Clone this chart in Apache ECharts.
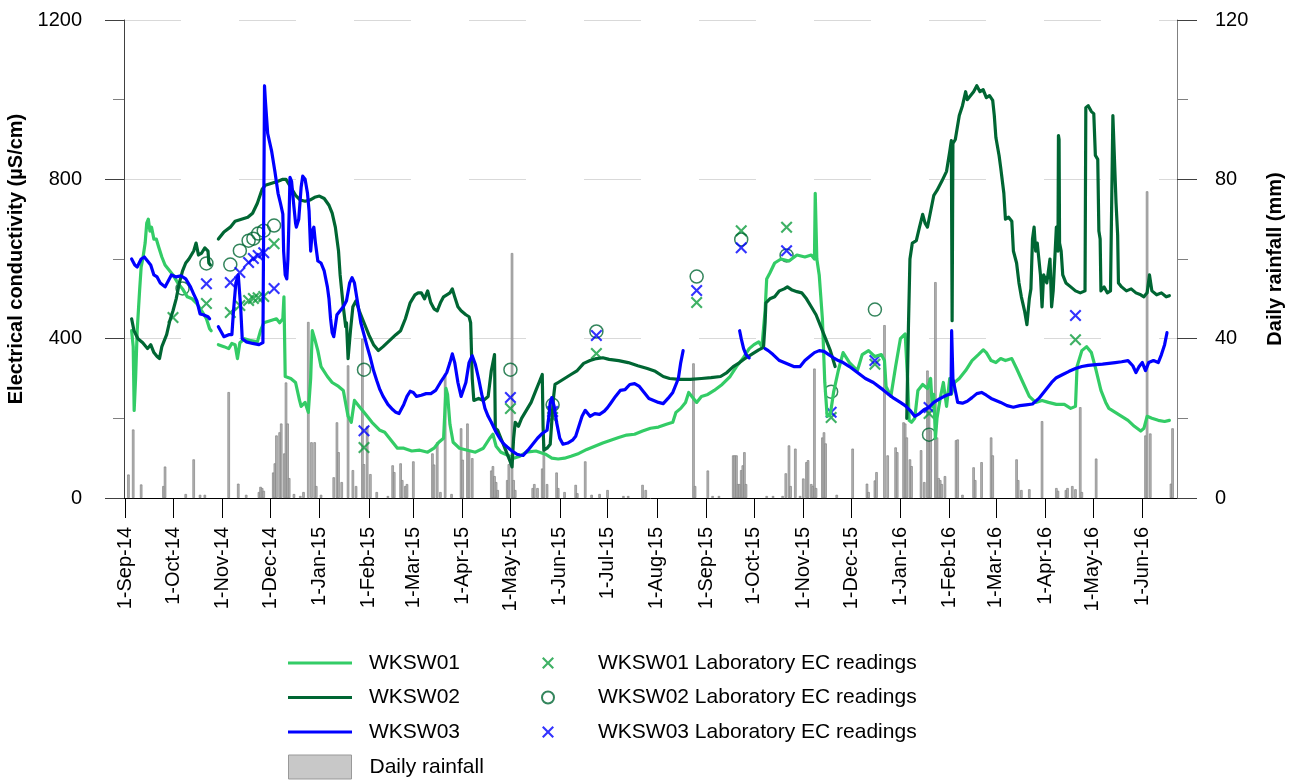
<!DOCTYPE html>
<html>
<head>
<meta charset="utf-8">
<script src="https://cdn.jsdelivr.net/npm/echarts@6/dist/echarts.min.js"></script>
<style>
  html, body { margin: 0; padding: 0; background: #fff; }
  #chart { width: 1298px; height: 780px; }
</style>
</head>
<body>
<div id="chart"></div>
<script>
// Time positions are given as days since 1 Sep 2014; [day, null] marks a logger gap.
const START = new Date(2014, 8, 1).getTime();
const DAY = 864e5;
const END_DAY = 660;

const MONTHS = ['Jan','Feb','Mar','Apr','May','Jun','Jul','Aug','Sep','Oct','Nov','Dec'];

// Continuous EC logger records (µS/cm)
const wksw01 = [
[4,420],[5,380],[5.6,220],[6.5,300],[7.5,420],[9,520],[10,580],[11,600],[12.5,640],[13.5,690],[14.5,700],[15.5,670],[16.5,680],[18,650],[19.5,650],[21,630],[23,605],[25,585],[27,575],[30,560],[33,540],[36,525],[39,505],[42,500],[45,488],[48,470],[51,450],[53,425],[54,420],
[56,null],
[58.5,385],[62,380],[65,375],[67,388],[69,385],[70.5,350],[72,390],[75,400],[79,395],[83,392],[85,420],[87,440],[91,445],[95,450],[97,440],[99,450],[99.7,505],[100.5,305],[104,300],[107,290],[109.5,245],[110.5,230],[113,240],[115,215],[116.5,300],[117.5,420],[119,400],[121,370],[123,330],[127,305],[130,290],[134,280],[137,270],[140,205],[142,190],[144,245],[147,230],[151,210],[155,190],[160,170],[163,165],[167,145],[171,125],[175,125],[180,118],[185,120],[190,115],[194,125],[197,140],[200,150],[201.5,275],[202.5,260],[204,185],[206,140],[210,125],[215,120],[220,115],[225,125],[229,150],[231,160],[233,130],[236,115],[240,108],[244,100],[248,105],[252,115],[258,118],[264,110],[268,100],[272,98],[276,100],[280,105],[285,112],[290,122],[295,130],[300,138],[305,145],[310,152],[315,158],[320,160],[325,168],[330,175],[335,178],[340,185],[344,190],[346,215],[349,225],[352,240],[354,265],[357,250],[359,240],[362,255],[366,260],[370,270],[375,285],[380,305],[384,330],[388,350],[392,375],[395,385],[398,392],[400,380],[402,470],[403,550],[405,565],[408,590],[412,600],[417,595],[422,610],[427,605],[431,610],[433,600],[433.5,765],[434.5,600],[436,560],[438,450],[439.5,290],[441,205],[443,210],[445,265],[448,320],[451,365],[455,340],[460,320],[463,360],[467,370],[471,355],[475,360],[477,345],[478,280],[481,255],[484,330],[487,400],[490,412],[491.5,300],[492.5,195],[494,190],[496,200],[498,270],[501,285],[504,275],[506,300],[507,230],[508,260],[509,150],[510,200],[512,250],[514,290],[516,230],[518,300],[519,260],[521,290],[524,300],[528,320],[532,345],[536,360],[539,372],[541,365],[544,345],[547,340],[550,350],[553,345],[557,350],[560,325],[564,290],[568,255],[572,240],[576,245],[580,240],[585,235],[590,235],[594,225],[597,230],[598,330],[601,370],[604,380],[607,365],[610,320],[613,270],[616,240],[618,225],[622,215],[626,205],[630,195],[634,180],[638,168],[640,175],[642,205],[645,200],[649,195],[653,192],[656,195]
];

const wksw02 = [
[4,450],[5.5,420],[8,400],[11,390],[14,375],[16,385],[18,365],[20,355],[21.5,350],[23,380],[26,410],[28,445],[30,470],[32,500],[34,540],[36,570],[38,590],[40,600],[43,620],[44.5,640],[46,610],[48,615],[50,628],[52,620],[52.5,590],[53.5,585],
[56,null],
[58.5,650],[62,668],[66,680],[69,695],[73,700],[77,705],[80,715],[83,740],[86,775],[88,785],[92,790],[96,795],[99,800],[101,800],[104,780],[107,760],[110,748],[113,745],[116,748],[119,755],[122,758],[125,752],[128,735],[130,715],[132,680],[134,620],[135,560],[137,480],[138.5,430],[139,440],[140,350],[141.5,420],[143,480],[145,495],[147,470],[150,440],[153,410],[156,385],[159,370],[162,380],[166,395],[170,410],[173,420],[176,450],[179,490],[182,510],[184,515],[186,515],[188,500],[190,520],[192,490],[194,475],[196,470],[198,490],[200,505],[202,510],[204,515],[205.5,525],[207,505],[209,480],[211,470],[214,460],[216,455],[217,440],[218,300],[219,245],[222,250],[225,245],[228,255],[230,320],[232,360],[232.5,175],[234,170],[236,150],[238,130],[240,110],[242,90],[243,78],[244,150],[245,190],[247,180],[249,200],[252,220],[255,240],[258,270],[260,290],[262,310],[262.5,180],[263,120],[265,125],[267,135],[268,140],[269,250],[270,285],[272,290],[276,300],[280,310],[284,320],[288,338],[292,345],[296,350],[300,352],[304,348],[310,345],[316,340],[322,332],[328,325],[333,318],[338,305],[342,300],[348,298],[355,298],[362,300],[368,302],[374,305],[378,315],[382,330],[386,340],[390,352],[394,362],[398,372],[401,378],[402,440],[402.5,490],[405,500],[408,505],[411,520],[414,525],[416,530],[419,522],[422,518],[425,515],[428,500],[431,480],[434,460],[437,430],[440,400],[443,370],[446,330],
[460,null],
[491,200],[492,420],[493,600],[494.5,640],[497,646],[499,680],[501,712],[502.5,690],[504,680],[506,720],[508,760],[510,772],[513,795],[516,820],[518,870],[519,897],[519.5,445],[520,890],[521.5,900],[524,960],[526,985],[528,1020],[529,1000],[531,1010],[533,1020],[535,1035],[537,1020],[539,1025],[541,1005],[543,1010],[545,998],[546,960],[547,905],[549,860],[550,830],[552,765],[553,700],[555,705],[557,695],[558,620],[560,590],[561.5,540],[563,505],[565,470],[566.5,435],[568,500],[569,525],[570,650],[571,680],[572,620],[573,640],[575,560],[576,480],[577,560],[579,540],[581,600],[582,480],[583,520],[584,600],[585,680],[586,620],[586.3,910],[586.7,900],[587,640],[588,620],[589,560],[591,540],[594,530],[597,520],[600,515],[603,520],[603.5,980],[605,985],[607,970],[608.5,965],[609.5,860],[611,850],[611.7,670],[612.5,650],[613,520],[615,530],[617,515],[619,520],[620,520],[620.5,960],[621.5,955],[622.5,740],[623.5,660],[624,540],[626,530],[629,520],[632,525],[635,515],[638,510],[640,505],[642,515],[643.5,560],[645,520],[648,510],[651,515],[654,505],[656,508]
];

const wksw03 = [
[4,600],[6,585],[7.5,580],[10,600],[12,605],[14,595],[16,585],[18,560],[20,555],[22,540],[25,530],[27,545],[29,560],[32,555],[35,558],[38,550],[41,530],[43,512],[45,495],[47,462],[49,460],[52,455],[53,450],
[56,null],
[58.5,430],[62,405],[65,410],[67,410],[68,470],[69.5,540],[71,560],[72.5,480],[73.5,400],[76,392],[80,388],[84,385],[86.5,390],[87.5,1035],[88,1000],[89.5,915],[92,870],[94,820],[96,765],[97.5,740],[99,713],[99.5,620],[100.5,560],[101.5,550],[102.2,600],[103,720],[103.5,805],[104.5,795],[106,730],[107,690],[107.5,680],[109,700],[110.5,780],[111.5,808],[113,800],[114.5,765],[115.5,720],[116.5,620],[117.5,670],[118.5,680],[119.5,640],[121,595],[123,590],[125,570],[127,530],[128,500],[129,450],[130,415],[131,405],[132,410],[133,460],[135,470],[137,480],[139,495],[141,540],[142.5,553],[144,540],[146,490],[148,440],[150,410],[152,380],[154,352],[156,320],[158,295],[160,272],[162,255],[165,235],[168,222],[170,215],[172,212],[175,235],[177,255],[179,268],[181,265],[183,255],[186,258],[189,262],[192,262],[195,270],[198,290],[200,302],[202,315],[204,340],[205.5,362],[207,340],[209,290],[211,255],[212,252],[214,290],[216,340],[218,357],[220,335],[222,300],[224,260],[226,225],[228,205],[230,190],[233,165],[236,145],[238,135],[240,128],[243,118],[246,110],[248,108],[250,107],[253,120],[256,135],[259,150],[262,162],[265,170],[266,200],[267,240],[268,252],[269.5,230],[271,190],[273,150],[275,135],[278,138],[281,145],[283,155],[285,180],[287,205],[289,220],[292,205],[295,212],[298,210],[301,218],[303,227],[305,238],[308,255],[311,270],[314,272],[317,285],[320,287],[323,280],[326,265],[329,250],[332,245],[335,240],[338,237],[341,250],[344,265],[346,285],[347.5,300],[349,340],[350.5,370],
[370,null],
[386,420],[387,400],[388.5,375],[390,360],[392,352],
[397,null],
[402,375],[404,370],[407,360],[411,345],[414,340],[417,335],[420,330],[424,330],[427,345],[430,355],[433,365],[436,370],[439,368],[442,360],[445,352],[448,345],[451,340],[455,330],[460,315],[465,300],[470,290],[476,272],[479,262],[483,250],[487,240],[490,232],[493,220],[496,205],[499,212],[502,222],[505,228],[508,240],[510,245],[513,252],[516,258],[518.8,262],[519.2,420],[520,300],[521,280],[523,240],[526,238],[529,243],[532,252],[535,262],[538,265],[541,258],[544,250],[547,245],[550,240],[554,232],[558,228],[562,232],[566,234],[570,236],[574,250],[578,270],[582,290],[585,302],[589,310],[593,318],[597,325],[601,330],[605,333],[610,335],[614,336],[618,338],[622,340],[626,342],[630,345],[633,332],[635,315],[637,330],[639,340],[641,320],[643,340],[646,345],[649,340],[651,360],[653,385],[654.5,415]
];

// Laboratory EC readings (µS/cm)
const lab01 = [[30,453],[51,488],[66,466],[72,483],[77.5,496],[80.5,501],[83.5,503],[87,506],[93.5,638],[150,127],[242,225],[268.5,202],[296,363],[359,491],[387,671],[415.5,680],[443.5,202],[471,336],[505,212],[597,397]];
const lab02 = [[36,526],[51,589],[66,586],[72,621],[77.5,646],[80.5,651],[83.5,664],[87,671],[93.5,684],[150,322],[242,322],[268.5,234],[296,418],[359,556],[387,649],[415.5,609],[443.5,267],[471,473],[505,159]];
const lab03 = [[51,538],[66,541],[72,566],[77.5,591],[80.5,601],[83.5,609],[87,616],[93.5,526],[150,169],[242,252],[268.5,217],[296,408],[359,521],[387,628],[415.5,621],[443.5,215],[471,345],[505,227],[597,458]];

// Daily rainfall (mm)
const rainfall = [
[2,5.9],[5,17.2],[10,3.4],[24,3],[25,7.9],[38,1],[43,9.7],[47,0.8],[50,0.8],[65,26.6],[71,3.6],[76,0.8],[84,1.5],[85,2.8],[86,2.5],[87,1.8],[93,6.4],[94,8.7],[95,15.7],[97,16.5],[98,18.7],[100,11.2],[101,29],[102,18.7],[103,5],[106,1],[110,0.5],[112,1.5],[115,44.2],[117,14],[119,14],[120,3],[123,0.8],[131,5.2],[133,19],[134,11.5],[136,4],[140,33.3],[143,7],[145,3],[149,40],[150,8.5],[152,18],[154,6],[158,1.5],[165,0.5],[168,8.2],[169,6.5],[173,8.7],[174,4.5],[176,3],[177,3.5],[181,9.2],[193,11.2],[194,8.4],[196,14],[198,1.5],[201,30.8],[205,1],[211,17.5],[212,9.6],[215,18.7],[216,12],[218,10],[230,6.9],[231,8],[232,5.5],[233,4],[234,2],[240,4.5],[241,8.5],[243,61.5],[244,4.5],[245,2],[256,2.5],[257,3.5],[259,2.5],[262,7.4],[263,13.7],[265,3.5],[271,6.4],[272,2.5],[276,1.5],[283,3.3],[284,1.2],[289,9.2],[293,0.8],[298,1],[303,2],[313,0.5],[316,0.5],[325,3.3],[327,2],[357,33.8],[358,3],[366,6.9],[369,0.5],[373,0.5],[382,10.7],[383,10.7],[384,10.7],[385,3.5],[386,3.5],[387,7],[388,8.2],[389,11.5],[390,3.5],[403,0.5],[407,0.5],[413,0.5],[415,6.2],[417,13.2],[418,3],[421,12.4],[424,0.5],[426,4.9],[428,9],[429,9.5],[431,3.5],[432,3],[433,32.5],[434,2.5],[438,15.2],[439,16.5],[440,13.7],[447,0.8],[457,12.4],[466,3.6],[467,1.5],[471,4.4],[472,6.5],[477,43.4],[479,10.7],[484,12.7],[485,11.5],[489,19],[490,18.7],[491,15.2],[493,9.7],[494,8],[500,12],[502,4],[504,32],[505,30],[506,17],[509,54.2],[510,15.2],[511,5],[512,4.5],[513,3.5],[515,5.5],[522,14.5],[523,14.7],[526,0.8],[533,7.7],[534,4.5],[538,9],[544,15.2],[545,10.7],[560,9.7],[561,4.5],[563,2],[568,2.2],[576,19.3],[585,2.5],[586,1.8],[591,2],[592,2.5],[595,3],[597,2.2],[600,22.8],[601,1.5],[610,9.9],[641,15.7],[642,77],[644,16.2],[657,3.6],[658,17.5]
];

const FONT = '"Liberation Sans", Arial, Helvetica, sans-serif';
const CROSS = 'path://M1.5,0L6,4.5L10.5,0L12,1.5L7.5,6L12,10.5L10.5,12L6,7.5L1.5,12L0,10.5L4.5,6L0,1.5Z';
const LINE_ICON = 'path://M0,0H64V3.2H0Z';

const toTime = d => START + d * DAY;
const pts = arr => arr.map(p => [toTime(p[0]), p[1]]);

function dateLabel(v) {
  const d = new Date(v);
  return d.getDate() + '-' + MONTHS[d.getMonth()] + '-' + String(d.getFullYear()).slice(2);
}

const chart = echarts.init(document.getElementById('chart'), null, { renderer: 'canvas' });

const legendText = { fontSize: 21, color: '#000', fontFamily: FONT, lineHeight: 24 };
const LEGEND_TOP = 651;
const LEGEND_ROW = 34.5;

chart.setOption({
  animation: false,
  backgroundColor: '#ffffff',
  textStyle: { fontFamily: FONT },
  grid: { left: 124, right: 121, top: 20, bottom: 282, containLabel: false, outerBoundsMode: 'none' },
  xAxis: {
    type: 'time',
    min: toTime(0),
    max: toTime(END_DAY),
    splitNumber: 22,
    minInterval: 28 * DAY,
    maxInterval: 31 * DAY,
    axisLine: { lineStyle: { color: '#000', width: 1 } },
    axisTick: { show: true, length: 20, lineStyle: { color: '#000' } },
    splitLine: { show: false },
    axisLabel: {
      rotate: 90, margin: 29, fontSize: 20, color: '#000', fontFamily: FONT,
      hideOverlap: false, formatter: dateLabel
    }
  },
  yAxis: [
    {
      type: 'value', position: 'left', min: 0, max: 1200, interval: 400,
      name: 'Electrical conductivity (µS/cm)', nameLocation: 'middle', nameRotate: 90, nameGap: 91,
      nameTextStyle: { fontSize: 20, fontWeight: 'bold', color: '#000', fontFamily: FONT },
      axisLine: { show: true, lineStyle: { color: '#404040' } },
      axisTick: { show: true, length: 19, lineStyle: { color: '#404040' } },
      minorTick: { show: true, splitNumber: 2, length: 11, lineStyle: { color: '#808080' } },
      axisLabel: { fontSize: 20, margin: 42, color: '#000', fontFamily: FONT, formatter: v => String(v) },
      splitLine: { show: true, lineStyle: { color: '#d9d9d9', width: 1, type: [57, 58] } }
    },
    {
      type: 'value', position: 'right', min: 0, max: 120, interval: 40,
      name: 'Daily rainfall (mm)', nameLocation: 'middle', nameRotate: 90, nameGap: 88,
      nameTextStyle: { fontSize: 20, fontWeight: 'bold', color: '#000', fontFamily: FONT },
      axisLine: { show: true, lineStyle: { color: '#808080' } },
      axisTick: { show: true, length: 20, lineStyle: { color: '#404040' } },
      minorTick: { show: true, splitNumber: 2, length: 11, lineStyle: { color: '#808080' } },
      axisLabel: { fontSize: 20, margin: 38, color: '#000', fontFamily: FONT, formatter: v => String(v) },
      splitLine: { show: false }
    }
  ],
  legend: [
    {
      data: [
        { name: 'WKSW01', icon: LINE_ICON },
        { name: 'WKSW02', icon: LINE_ICON },
        { name: 'WKSW03', icon: LINE_ICON }
      ],
      orient: 'vertical', left: 288, top: LEGEND_TOP, padding: 0, height: 110,
      itemWidth: 64, itemHeight: 24, itemGap: LEGEND_ROW - 24,
      selectedMode: false,
      textStyle: Object.assign({ padding: [0, 0, 0, 12] }, legendText)
    },
    {
      data: [{
        name: 'Daily rainfall', icon: 'rect',
        itemStyle: { color: '#c8c8c8', borderColor: '#999999', borderWidth: 1 }
      }],
      orient: 'vertical', left: 288, top: LEGEND_TOP + 3 * LEGEND_ROW, padding: 0,
      itemWidth: 63, itemHeight: 24,
      selectedMode: false,
      textStyle: Object.assign({ padding: [0, 0, 0, 13] }, legendText)
    },
    {
      data: ['WKSW01 Laboratory EC readings', 'WKSW02 Laboratory EC readings', 'WKSW03 Laboratory EC readings'],
      orient: 'vertical', left: 541, top: LEGEND_TOP, padding: 0, height: 110,
      itemWidth: 12, itemHeight: 12, itemGap: LEGEND_ROW - 24,
      selectedMode: false,
      textStyle: Object.assign({ padding: [0, 0, 0, 39] }, legendText)
    }
  ],
  series: [
    {
      name: 'Daily rainfall', type: 'bar', yAxisIndex: 1, barWidth: 2.5,
      data: pts(rainfall),
      itemStyle: { color: '#b4b4b4', borderColor: '#848484', borderWidth: 0.7 }
    },
    {
      name: 'WKSW01', type: 'line', data: pts(wksw01), symbol: 'none', connectNulls: false,
      lineStyle: { color: '#33cc66', width: 3.2, join: 'round', cap: 'round' }, itemStyle: { color: '#33cc66' }
    },
    {
      name: 'WKSW02', type: 'line', data: pts(wksw02), symbol: 'none', connectNulls: false,
      lineStyle: { color: '#006633', width: 3.2, join: 'round', cap: 'round' }, itemStyle: { color: '#006633' }
    },
    {
      name: 'WKSW03', type: 'line', data: pts(wksw03), symbol: 'none', connectNulls: false,
      lineStyle: { color: '#0000ff', width: 3.2, join: 'round', cap: 'round' }, itemStyle: { color: '#0000ff' }
    },
    {
      name: 'WKSW01 Laboratory EC readings', type: 'scatter', data: pts(lab01),
      symbol: CROSS, symbolSize: 12, symbolKeepAspect: true,
      itemStyle: { color: '#0f9d3e' }
    },
    {
      name: 'WKSW02 Laboratory EC readings', type: 'scatter', data: pts(lab02),
      symbol: 'circle', symbolSize: 13,
      itemStyle: { color: 'rgba(255,255,255,0)', borderColor: '#006633', borderWidth: 1.5 }
    },
    {
      name: 'WKSW03 Laboratory EC readings', type: 'scatter', data: pts(lab03),
      symbol: CROSS, symbolSize: 12, symbolKeepAspect: true,
      itemStyle: { color: '#0000ff' }
    }
  ]
});
</script>
</body>
</html>
